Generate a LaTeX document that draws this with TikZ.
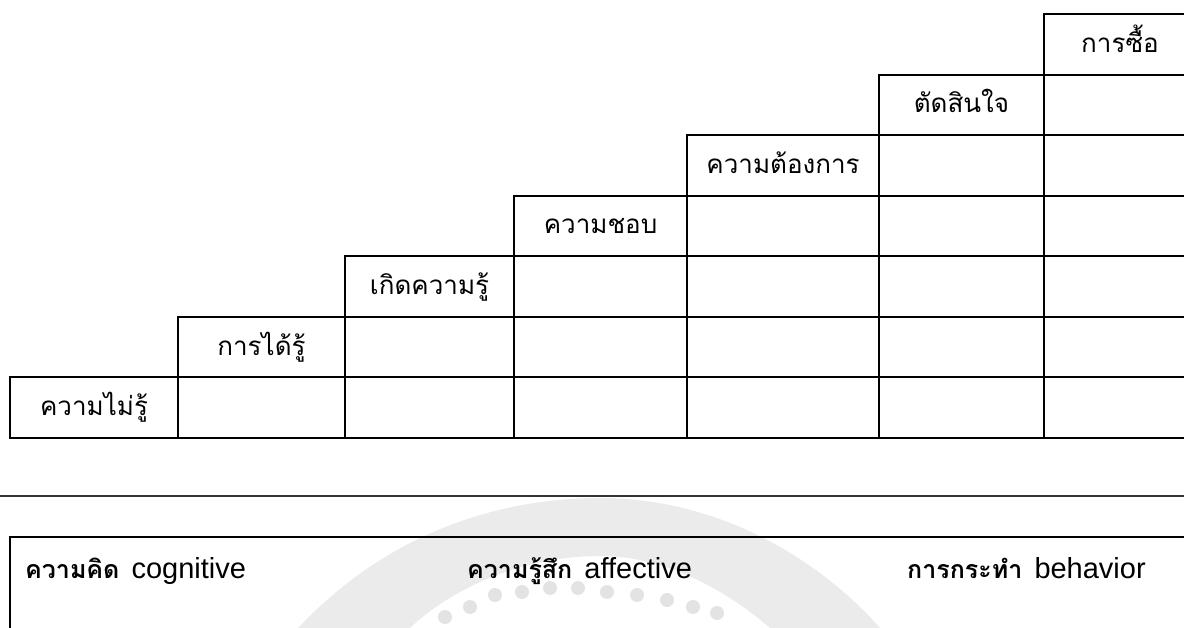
\documentclass[tikz,border=0pt]{standalone}
\usepackage{fontspec}
\setmainfont{Liberation Sans}
\newfontfamily\thaifont[Script=Thai]{Loma}
\usetikzlibrary{positioning}
\tikzset{%
  every cell/.style={
    rectangle,
    draw,
    line width=2pt,
    inner sep=0pt,
    anchor=north west,
    minimum height=60.57pt
  },
  cell label/.style={
    anchor=base,
    inner sep=0pt,
    font=\thaifont\fontsize{26}{30}\selectfont
  },
  stage label/.style={
    anchor=base west,
    inner sep=0pt,
    font=\fontsize{29}{33}\selectfont
  },
  watermark/.style={
    fill=black!8,
    draw=none
  },
}
\newcommand{\thaihead}[1]{{\thaifont\fontsize{25}{30}\selectfont\textbf{#1}}\hspace{0.42em}}

\begin{document}
\begin{tikzpicture}[x=1pt, y=-1pt]
\useasboundingbox (0,0) rectangle (1184,628);
\clip (0,0) rectangle (1184,628);

% faint logo behind the box
\fill [watermark] (298,628) .. controls (400,520) and (520,498) .. (600,498)
  .. controls (720,498) and (820,560) .. (880,628) -- (770,628)
  .. controls (720,585) and (660,556) .. (600,556)
  .. controls (520,556) and (450,590) .. (410,628) -- cycle;
\foreach \dx/\dy in {445/617, 470/607, 495/595, 522/592, 550/588, 578/588, 607/592, 637/595, 667/600, 693/607, 717/613}
  \fill [black!11] (\dx,\dy) circle (7);

% Staircase of stages
\foreach \c/\xa/\xb in {1/9/177, 2/177/344, 3/344/513, 4/513/686, 5/686/878, 6/878/1043, 7/1043/1195}
{
  \pgfmathtruncatemacro\first{8-\c}
  \pgfmathsetmacro\w{\xb-\xa}
  \foreach \r in {\first,...,7}
    \node [every cell, minimum width=\w pt] (cell-\r-\c) at (\xa, {13+(\r-1)*60.57}) {};
}

% Stage names
\foreach \l [count=\c] in {ความไม่รู้, การได้รู้, เกิดความรู้, ความชอบ, ความต้องการ, ตัดสินใจ, การซื้อ}
{
  \pgfmathtruncatemacro\r{8-\c}
  \node [cell label] (stage-\c) at ([yshift=-8pt]cell-\r-\c.center) {\l};
}

% Components below
\coordinate (rule-w) at (0,496);
\coordinate (rule-e) at (1184,496);
\draw [line width=2.2pt, black!80] (rule-w) -- (rule-e);

\coordinate (box-sw) at (10,640);
\coordinate (box-nw) at (10,537);
\coordinate (box-ne) at (1200,537);
\draw [line width=2pt] (box-sw) -- (box-nw) -- (box-ne);

\node [stage label] (cognitive) at (25,578) {\thaihead{ความคิด}cognitive};
\node [stage label] (affective) at (467,578) {\thaihead{ความรู้สึก}affective};
\node [stage label] (behavior) at (907,578) {\thaihead{การกระทำ}behavior};

\end{tikzpicture}
\end{document}
